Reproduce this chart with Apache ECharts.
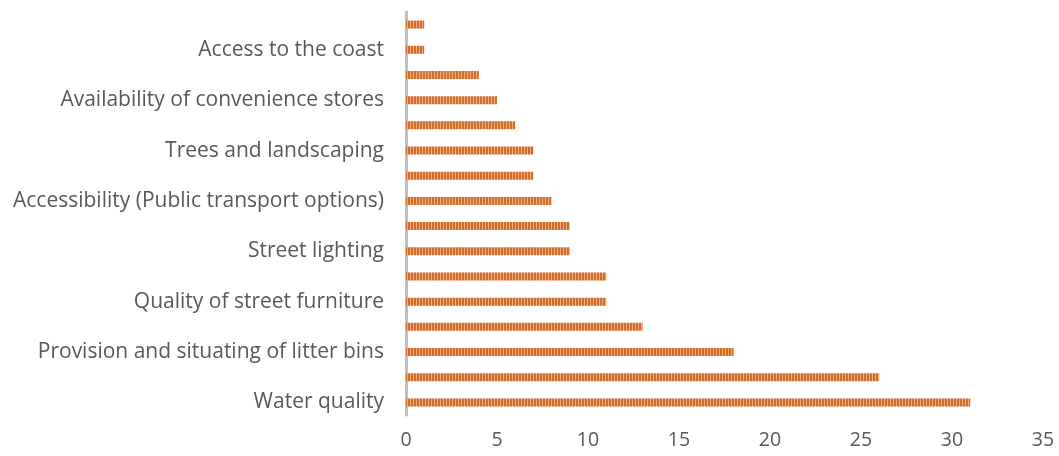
<!DOCTYPE html>
<html><head><meta charset="utf-8">
<script src="https://cdn.jsdelivr.net/npm/echarts@6/dist/echarts.min.js"></script>
<style>html,body{margin:0;padding:0;background:#fff}#c{width:1059px;height:456px}</style>
</head><body><div id="c"></div>
<script>
// bottom to top
const categories = ['Water quality','','Provision and situating of litter bins','','Quality of street furniture','','Street lighting','','Accessibility (Public transport options)','','Trees and landscaping','','Availability of convenience stores','','Access to the coast',''];
const values = [31,26,18,13,11,11,9,9,8,7,7,6,5,4,1,1];
const xTicks = [0,5,10,15,20,25,30,35];

const cv = document.createElement('canvas');
cv.width = 3; cv.height = 8;
const ctx = cv.getContext('2d');
ctx.fillStyle = '#cf6d2d'; ctx.fillRect(0,0,3,8);
ctx.fillStyle = '#eeae7e'; ctx.fillRect(2,0,1,8);

const chart = echarts.init(document.getElementById('c'));
chart.setOption({
  animation:false,
  grid:{left:406,right:16,top:12,bottom:41,containLabel:false},
  xAxis:{type:'value',min:xTicks[0],max:xTicks[xTicks.length-1],interval:5,
    axisLine:{show:false},axisTick:{show:false},splitLine:{show:false},
    axisLabel:{color:'#595959',fontSize:19.5,fontFamily:'Open Sans',margin:15}},
  yAxis:{type:'category',data:categories,
    axisLine:{show:true,lineStyle:{color:'#bfbfbf',width:3}},
    axisTick:{show:false},
    axisLabel:{interval:0,color:'#595959',fontSize:21,fontFamily:'Open Sans',margin:22}},
  series:[{type:'bar',data:values,barWidth:8,
    itemStyle:{color:{image:cv,repeat:'repeat'}}}]
});
</script></body></html>
